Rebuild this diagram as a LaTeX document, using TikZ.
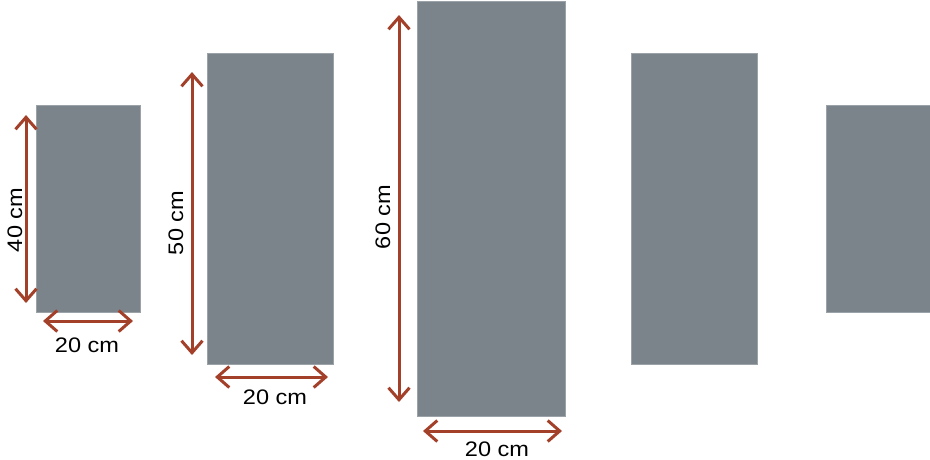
\documentclass[tikz,border=0pt]{standalone}
\usepackage{fontspec}
\setmainfont{Liberation Sans}
\newfontfamily\dimfont[FakeStretch=1.12]{Liberation Sans}
\usetikzlibrary{arrows.meta}
\definecolor{panelgray}{HTML}{7B848B}
\definecolor{dimred}{HTML}{A3402A}

\begin{document}
\begin{tikzpicture}[x=1pt, y=-1pt,
    panel/.style={fill=panelgray, draw=panelgray!75!white, line width=0.6pt, inner sep=0pt, outer sep=0pt, anchor=north west},
    dimarrow/.style={draw=dimred, line width=3pt, {Straight Barb[length=12pt,width=21pt]}-{Straight Barb[length=12pt,width=21pt]}},
    dimlabel/.style={font=\dimfont\fontsize{21}{24}\selectfont, inner sep=0pt}]
    \useasboundingbox (0,0) rectangle (930,459);

    \node[panel, minimum width=104pt, minimum height=207pt] (p1) at (36,105) {};
    \node[panel, minimum width=126pt, minimum height=311pt] (p2) at (207,53) {};
    \node[panel, minimum width=148pt, minimum height=415pt] (p3) at (417,1) {};
    \node[panel, minimum width=126pt, minimum height=311pt] (p4) at (631,53) {};
    \node[panel, minimum width=104pt, minimum height=207pt] (p5) at (826,105) {};

    % 40 x 20
    \coordinate (v1top) at (26,115);
    \coordinate (v1bot) at (26,303);
    \draw[dimarrow] (v1top) -- (v1bot);
    \node[dimlabel, rotate=90] (l1h) at (15,220) {40 cm};
    \coordinate (h1left) at (43,321);
    \coordinate (h1right) at (133,321);
    \draw[dimarrow] (h1left) -- (h1right);
    \node[dimlabel] (l1w) at (87,345) {20 cm};

    % 50 x 20
    \coordinate (v2top) at (192,72);
    \coordinate (v2bot) at (192,355);
    \draw[dimarrow] (v2top) -- (v2bot);
    \node[dimlabel, rotate=90] (l2h) at (176,223) {50 cm};
    \coordinate (h2left) at (215,377);
    \coordinate (h2right) at (328,377);
    \draw[dimarrow] (h2left) -- (h2right);
    \node[dimlabel] (l2w) at (275,397) {20 cm};

    % 60 x 20
    \coordinate (v3top) at (399,15);
    \coordinate (v3bot) at (399,402);
    \draw[dimarrow] (v3top) -- (v3bot);
    \node[dimlabel, rotate=90] (l3h) at (383,217) {60 cm};
    \coordinate (h3left) at (423,431);
    \coordinate (h3right) at (562,431);
    \draw[dimarrow] (h3left) -- (h3right);
    \node[dimlabel] (l3w) at (497,449) {20 cm};
  \end{tikzpicture}
\end{document}
